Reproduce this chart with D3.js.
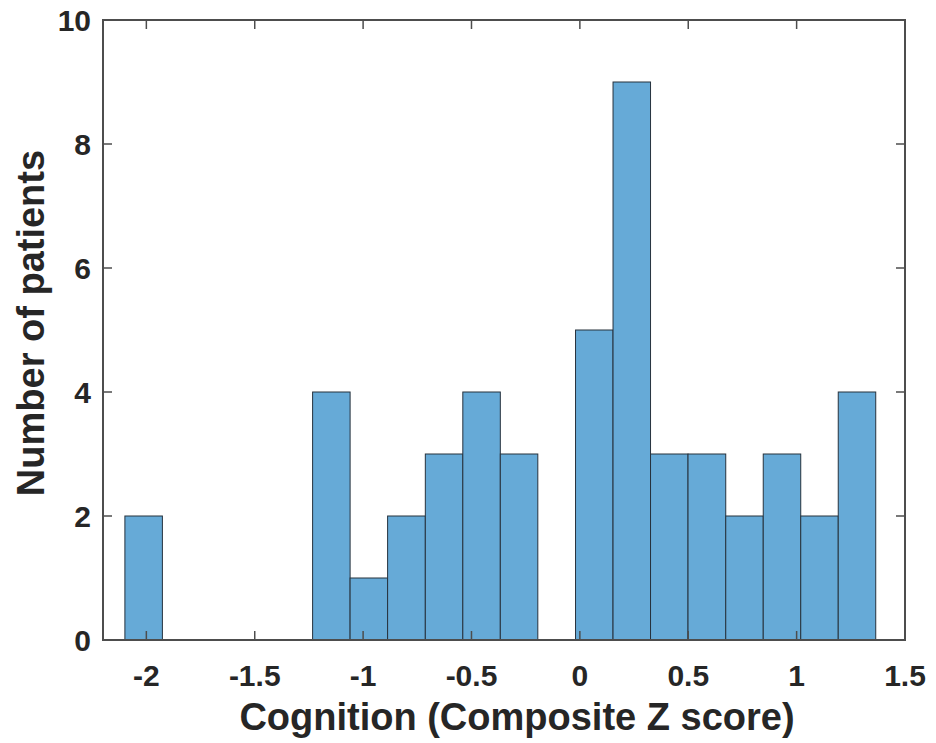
<!DOCTYPE html>
<html>
<head>
<meta charset="utf-8">
<script src="https://cdn.jsdelivr.net/npm/d3@7"></script>
<style>
  body { margin: 0; background: #fff; }
  text { font-family: "Liberation Sans", Arial, sans-serif; font-weight: bold; fill: #262626; }
</style>
</head>
<body>
<div id="chart"></div>
<script>
  // histogram bin edges (Composite Z score) and counts per bin
  var binEdges = [-2.099, -1.926, -1.753, -1.579, -1.406, -1.233, -1.060, -0.887, -0.713,
                  -0.540, -0.367, -0.194, -0.020, 0.153, 0.326, 0.499, 0.673, 0.846,
                  1.019, 1.192, 1.365];
  var counts = [2, 0, 0, 0, 0, 4, 1, 2, 3, 4, 3, 0, 5, 9, 3, 3, 2, 3, 2, 4];
  var xTicks = [-2, -1.5, -1, -0.5, 0, 0.5, 1, 1.5];
  var yTicks = [0, 2, 4, 6, 8, 10];

  var width = 936, height = 743;
  var margin = {top: 20, right: 31, bottom: 103, left: 103};
  var iw = width - margin.left - margin.right,
      ih = height - margin.top - margin.bottom;

  var svg = d3.select("#chart").append("svg")
      .attr("width", width)
      .attr("height", height);

  var g = svg.append("g")
      .attr("transform", "translate(" + margin.left + "," + margin.top + ")");

  var x = d3.scaleLinear().domain([-2.2, 1.5]).range([0, iw]);
  var y = d3.scaleLinear().domain([0, 10]).range([ih, 0]);

  var bins = counts.map(function(c, i) {
    return {x0: binEdges[i], x1: binEdges[i + 1], n: c};
  });

  g.selectAll(".bar")
    .data(bins.filter(function(d) { return d.n > 0; }))
  .enter().append("rect")
    .attr("class", "bar")
    .attr("x", function(d) { return x(d.x0); })
    .attr("y", function(d) { return y(d.n); })
    .attr("width", function(d) { return x(d.x1) - x(d.x0); })
    .attr("height", function(d) { return y(0) - y(d.n); })
    .attr("fill", "#66aad7")
    .attr("stroke", "#26323d")
    .attr("stroke-width", 1);

  var axColor = "#4d4d4d", tl = 9;

  // bottom/top ticks
  xTicks.forEach(function(t) {
    g.append("line").attr("x1", x(t)).attr("x2", x(t)).attr("y1", ih).attr("y2", ih - tl)
      .attr("stroke", axColor).attr("stroke-width", 1.5);
    g.append("line").attr("x1", x(t)).attr("x2", x(t)).attr("y1", 0).attr("y2", tl)
      .attr("stroke", axColor).attr("stroke-width", 1.5);
    g.append("text").attr("x", x(t)).attr("y", ih + 46)
      .attr("text-anchor", "middle").style("font-size", "30px")
      .text(t);
  });

  // left/right ticks
  yTicks.forEach(function(t) {
    g.append("line").attr("x1", 0).attr("x2", tl).attr("y1", y(t)).attr("y2", y(t))
      .attr("stroke", axColor).attr("stroke-width", 1.5);
    g.append("line").attr("x1", iw).attr("x2", iw - tl).attr("y1", y(t)).attr("y2", y(t))
      .attr("stroke", axColor).attr("stroke-width", 1.5);
    g.append("text").attr("x", -12).attr("y", y(t) + 11)
      .attr("text-anchor", "end").style("font-size", "30px")
      .text(t);
  });

  // box
  g.append("rect")
    .attr("x", 0).attr("y", 0).attr("width", iw).attr("height", ih)
    .attr("fill", "none").attr("stroke", axColor).attr("stroke-width", 2);

  svg.append("text")
    .attr("x", 517).attr("y", 730)
    .attr("text-anchor", "middle").style("font-size", "38px")
    .text("Cognition (Composite Z score)");

  svg.append("text")
    .attr("transform", "translate(44,323) rotate(-90)")
    .attr("text-anchor", "middle").style("font-size", "38px")
    .text("Number of patients");
</script>
</body>
</html>
